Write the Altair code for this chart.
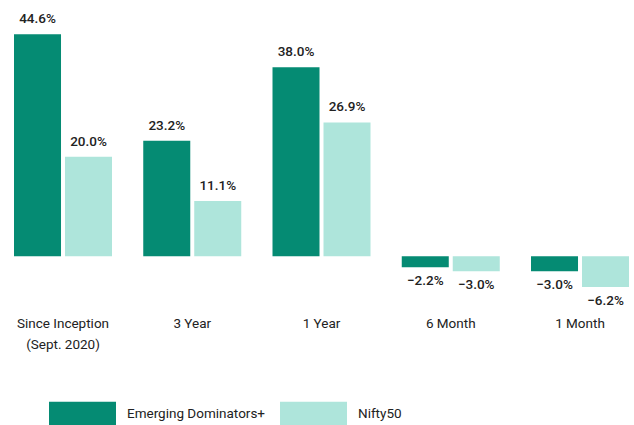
import altair as alt
import pandas as pd

categories = ["Since Inception", "3 Year", "1 Year", "6 Month", "1 Month"]
series_names = ["Emerging Dominators+", "Nifty50"]
emerging = [44.6, 23.2, 38.0, -2.2, -3.0]
nifty = [20.0, 11.1, 26.9, -3.0, -6.2]
colors = ["#058B73", "#AEE5DB"]

rows = []
for c, e, n in zip(categories, emerging, nifty):
    rows.append({"category": c, "series": series_names[0], "value": e})
    rows.append({"category": c, "series": series_names[1], "value": n})
df = pd.DataFrame(rows)

FONT = "Roboto"

x = alt.X("category:N", sort=categories, title=None,
          scale=alt.Scale(paddingInner=0.2418, paddingOuter=0.0735, align=0.737),
          axis=alt.Axis(domain=False, ticks=False, grid=False, labelAngle=0,
                        labelPadding=10, labelFontSize=13.5, labelColor="#222222",
                        labelFont=FONT, labelLineHeight=21,
                        labelExpr="datum.value == 'Since Inception' ? ['Since Inception', '(Sept. 2020)'] : datum.label"))
xo = alt.XOffset("series:N", sort=series_names,
                 scale=alt.Scale(paddingInner=0.078, paddingOuter=0))
y = alt.Y("value:Q", axis=None, scale=alt.Scale(domain=[-10, 51.5], nice=False, zero=False))

base = alt.Chart(df).encode(x=x, xOffset=xo, y=y)

bars = base.mark_bar().encode(
    color=alt.Color("series:N", sort=series_names,
                    scale=alt.Scale(domain=series_names, range=colors),
                    legend=alt.Legend(title=None, orient="none", direction="horizontal",
                                      legendX=49, legendY=380, padding=0,
                                      symbolType="M-1,-0.358L1,-0.358L1,0.358L-1,0.358Z",
                                      symbolSize=4489, symbolStrokeWidth=0,
                                      symbolOpacity=1,
                                      labelFontSize=13.5, labelFont=FONT, labelColor="#222222",
                                      labelOffset=11, columnPadding=14))
)

labels = base.transform_calculate(
    label="format(datum.value, '.1f') + '%'"
)

pos = labels.transform_filter("datum.value >= 0").mark_text(
    baseline="alphabetic", dy=-11, fontSize=13.5, fontWeight=500, font=FONT, color="#222222"
).encode(text="label:N")

neg = labels.transform_filter("datum.value < 0").mark_text(
    baseline="top", dy=7, fontSize=13.5, fontWeight=500, font=FONT, color="#222222"
).encode(text="label:N")

chart = alt.layer(bars, pos, neg).properties(
    width=634, height=306, padding=0, autosize=alt.AutoSizeParams(type="pad")
).configure(background="white").configure_view(stroke=None)

chart.save("out.html", embed_options={"renderer": "svg", "actions": False})
